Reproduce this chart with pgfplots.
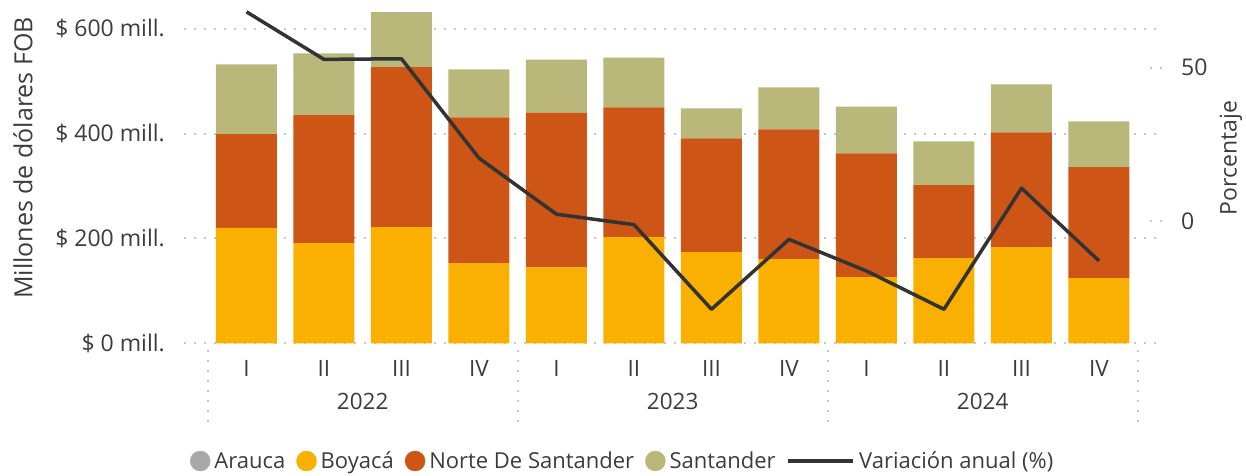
\documentclass[border=0pt]{standalone}
\usepackage{pgfplots}
\usepackage{pgfplotstable}
\pgfplotsset{compat=1.18}
\usepackage{fontspec}
\setmainfont{Open Sans}
\definecolor{boy}{HTML}{F9B000}
\definecolor{nds}{HTML}{CD5516}
\definecolor{san}{HTML}{B9B87A}
\definecolor{ara}{HTML}{A8A8A8}
\definecolor{txt}{HTML}{3C3C3C}
\definecolor{grd}{HTML}{C8C8C8}
\definecolor{lin}{HTML}{333333}

\pgfplotstableread{
k ara boy nds san var
0 0 220 179 133 68.2
1 0 191 244 118 52.7
2 0 221.5 305 105 52.9
3 0 153 278 91.5 20.5
4 0 145 295 101 2.2
5 0 202.5 247.5 95 -1.2
6 0 174 217 57 -28.8
7 0 160.5 247.5 80 -6.0
8 0 126 236 89.5 -16.3
9 0 162.5 139 83.5 -28.8
10 0 183.5 219 91.5 10.7
11 0 124.5 211.5 87.5 -13.0
}\data

\newcommand{\fnt}{\fontsize{23}{27}\selectfont}
\newcommand{\fntx}{\fontsize{22.5}{27}\selectfont}
\newcommand{\fntl}{\fontsize{22}{26}\selectfont}
\newcommand{\fntt}{\fontsize{25}{30}\selectfont}

\begin{document}
\begin{tikzpicture}[font=\fnt, text=txt]
\pgfplotsset{common/.style={scale only axis, width=972pt, height=338.2pt,
  at={(184pt,-343.3pt)}, anchor=south west, xmin=-0.806, xmax=11.736,
  tick label style={font=\fnt, text=txt}, clip=false}}
\begin{axis}[common, ymin=0, ymax=645, ybar stacked, bar width=0.787,
  axis line style={draw=none}, major tick length=0pt,
  xtick={0,...,11}, xticklabels={I,II,III,IV,I,II,III,IV,I,II,III,IV},
  ytick={0,200,400,600},
  yticklabels={\$ 0 mill.,\$ 200 mill.,\$ 400 mill.,\$ 600 mill.},
  ymajorgrids, major grid style={grd, line width=2pt, dash pattern=on 2pt off 8pt},
  yticklabel style={anchor=east, inner sep=0pt, xshift=-19pt},
  xticklabel style={anchor=north, inner sep=0pt, yshift=-17pt, font=\fntx}]
\addplot[fill=ara, draw=none] table[x=k,y=ara]{\data};
\addplot[fill=boy, draw=none] table[x=k,y=boy]{\data};
\addplot[fill=nds, draw=none] table[x=k,y=nds]{\data};
\addplot[fill=san, draw=none] table[x=k,y=san]{\data};
\node[font=\fntx] at (axis cs:1.5,0) [yshift=-58pt] {2022};
\node[font=\fntx] at (axis cs:5.5,0) [yshift=-58pt] {2023};
\node[font=\fntx] at (axis cs:9.5,0) [yshift=-58pt] {2024};
\pgfplotsinvokeforeach{-0.5,3.5,7.5,11.5}{
  \draw[grd, line width=2pt, dash pattern=on 2pt off 8pt] ([yshift=-6.5pt]axis cs:#1,0) -- ([yshift=-79.5pt]axis cs:#1,0);
}
\end{axis}
\begin{axis}[common, ymin=-39.9, ymax=70.4, axis x line=none, axis y line*=right,
  axis line style={draw=none}, ytick={0,50}, tick align=center, major tick length=12pt,
  ytick style={grd, line width=2pt, dash pattern=on 2pt off 8pt},
  /pgf/number format/assume math mode=true,
  yticklabel style={anchor=west, inner sep=0pt, xshift=19pt},
  legend style={at={(0.006,-0.348)}, anchor=west, draw=none, fill=none, inner sep=0pt,
    font=\fntl, text=txt, nodes={inner sep=0pt},
    /tikz/every odd column/.append style={column sep=4pt},
    /tikz/every even column/.append style={column sep=11pt}},
  legend columns=-1]
\addlegendimage{legend image code/.code={\fill[ara] (10pt,0pt) circle (10pt);}}
\addlegendentry{Arauca}
\addlegendimage{legend image code/.code={\fill[boy] (10pt,0pt) circle (10pt);}}
\addlegendentry{Boyacá}
\addlegendimage{legend image code/.code={\fill[nds] (10pt,0pt) circle (10pt);}}
\addlegendentry{Norte De Santander}
\addlegendimage{legend image code/.code={\fill[san] (10pt,0pt) circle (10pt);}}
\addlegendentry{Santander}
\addplot[lin, line width=3.5pt, line join=round,
  legend image code/.code={\draw[lin, line width=3.5pt] (0pt,0pt) -- (65pt,0pt);}]
  table[x=k,y=var]{\data};
\addlegendentry{Variación anual (\%)}
\end{axis}
\node[rotate=90, font=\fntt] at (23pt,-158pt) {Millones de dólares FOB};
\node[rotate=90] at (1231pt,-158pt) {Porcentaje};
\pgfresetboundingbox
\path[use as bounding box] (0pt,0pt) rectangle (1246pt,-475pt);
\end{tikzpicture}
\end{document}
